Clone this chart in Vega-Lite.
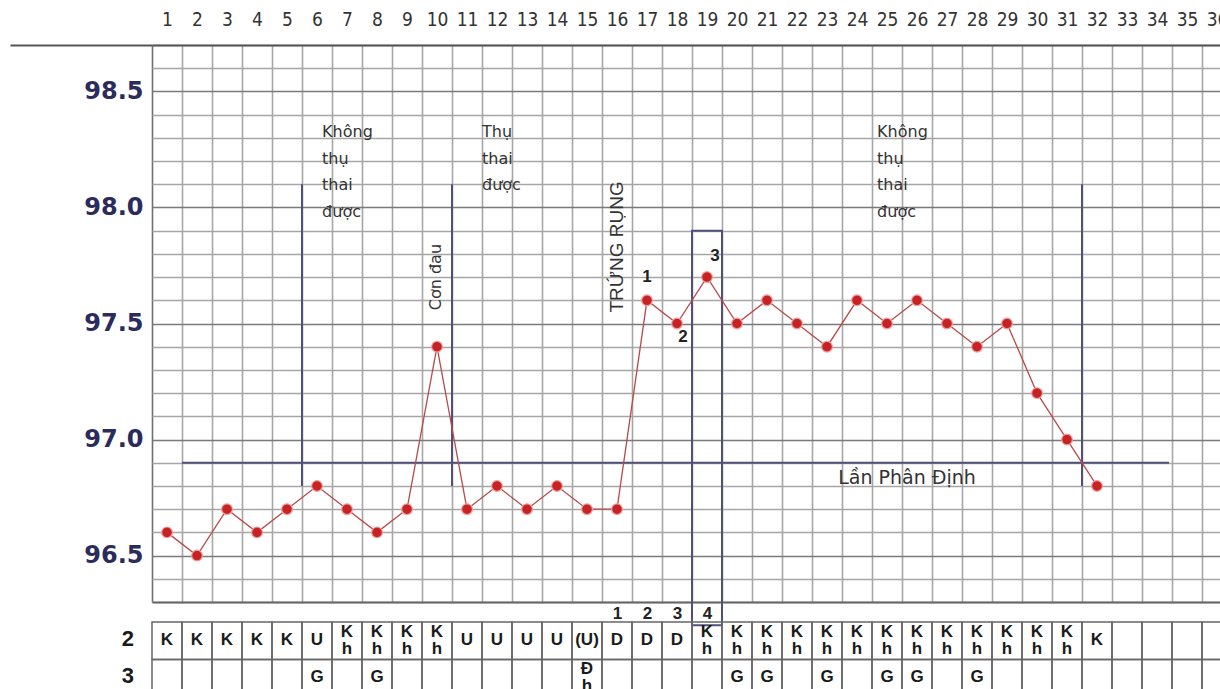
{
  "$schema": "https://vega.github.io/schema/vega-lite/v6.json",
  "autosize": {"type": "none"},
  "padding": {"left": 152, "top": 45, "right": 0, "bottom": 87},
  "width": 1068,
  "height": 557,
  "background": "white",
  "config": {"view": {"stroke": null}, "font": "Liberation Sans"},
  "datasets": {
    "temps": [
      {"day": 1, "temp": 96.6}, {"day": 2, "temp": 96.5}, {"day": 3, "temp": 96.7}, {"day": 4, "temp": 96.6},
      {"day": 5, "temp": 96.7}, {"day": 6, "temp": 96.8}, {"day": 7, "temp": 96.7}, {"day": 8, "temp": 96.6},
      {"day": 9, "temp": 96.7}, {"day": 10, "temp": 97.4}, {"day": 11, "temp": 96.7}, {"day": 12, "temp": 96.8},
      {"day": 13, "temp": 96.7}, {"day": 14, "temp": 96.8}, {"day": 15, "temp": 96.7}, {"day": 16, "temp": 96.7},
      {"day": 17, "temp": 97.6}, {"day": 18, "temp": 97.5}, {"day": 19, "temp": 97.7}, {"day": 20, "temp": 97.5},
      {"day": 21, "temp": 97.6}, {"day": 22, "temp": 97.5}, {"day": 23, "temp": 97.4}, {"day": 24, "temp": 97.6},
      {"day": 25, "temp": 97.5}, {"day": 26, "temp": 97.6}, {"day": 27, "temp": 97.5}, {"day": 28, "temp": 97.4},
      {"day": 29, "temp": 97.5}, {"day": 30, "temp": 97.2}, {"day": 31, "temp": 97.0}, {"day": 32, "temp": 96.8}
    ],
    "cells": [
      {"d": 1, "r": "2", "t": "K"}, {"d": 2, "r": "2", "t": "K"}, {"d": 3, "r": "2", "t": "K"}, {"d": 4, "r": "2", "t": "K"},
      {"d": 5, "r": "2", "t": "K"}, {"d": 6, "r": "2", "t": "U"}, {"d": 7, "r": "2", "t": "K\nh"}, {"d": 8, "r": "2", "t": "K\nh"},
      {"d": 9, "r": "2", "t": "K\nh"}, {"d": 10, "r": "2", "t": "K\nh"}, {"d": 11, "r": "2", "t": "U"}, {"d": 12, "r": "2", "t": "U"},
      {"d": 13, "r": "2", "t": "U"}, {"d": 14, "r": "2", "t": "U"}, {"d": 15, "r": "2", "t": "(U)"}, {"d": 16, "r": "2", "t": "D"},
      {"d": 17, "r": "2", "t": "D"}, {"d": 18, "r": "2", "t": "D"}, {"d": 19, "r": "2", "t": "K\nh"}, {"d": 20, "r": "2", "t": "K\nh"},
      {"d": 21, "r": "2", "t": "K\nh"}, {"d": 22, "r": "2", "t": "K\nh"}, {"d": 23, "r": "2", "t": "K\nh"}, {"d": 24, "r": "2", "t": "K\nh"},
      {"d": 25, "r": "2", "t": "K\nh"}, {"d": 26, "r": "2", "t": "K\nh"}, {"d": 27, "r": "2", "t": "K\nh"}, {"d": 28, "r": "2", "t": "K\nh"},
      {"d": 29, "r": "2", "t": "K\nh"}, {"d": 30, "r": "2", "t": "K\nh"}, {"d": 31, "r": "2", "t": "K\nh"}, {"d": 32, "r": "2", "t": "K"},
      {"d": 33, "r": "2", "t": ""}, {"d": 34, "r": "2", "t": ""}, {"d": 35, "r": "2", "t": ""}, {"d": 36, "r": "2", "t": ""},
      {"d": 1, "r": "3", "t": ""}, {"d": 2, "r": "3", "t": ""}, {"d": 3, "r": "3", "t": ""}, {"d": 4, "r": "3", "t": ""},
      {"d": 5, "r": "3", "t": ""}, {"d": 6, "r": "3", "t": "G"}, {"d": 7, "r": "3", "t": ""}, {"d": 8, "r": "3", "t": "G"},
      {"d": 9, "r": "3", "t": ""}, {"d": 10, "r": "3", "t": ""}, {"d": 11, "r": "3", "t": ""}, {"d": 12, "r": "3", "t": ""},
      {"d": 13, "r": "3", "t": ""}, {"d": 14, "r": "3", "t": ""}, {"d": 15, "r": "3", "t": "Đ\nh"}, {"d": 16, "r": "3", "t": ""},
      {"d": 17, "r": "3", "t": ""}, {"d": 18, "r": "3", "t": ""}, {"d": 19, "r": "3", "t": ""}, {"d": 20, "r": "3", "t": "G"},
      {"d": 21, "r": "3", "t": "G"}, {"d": 22, "r": "3", "t": ""}, {"d": 23, "r": "3", "t": "G"}, {"d": 24, "r": "3", "t": ""},
      {"d": 25, "r": "3", "t": "G"}, {"d": 26, "r": "3", "t": "G"}, {"d": 27, "r": "3", "t": ""}, {"d": 28, "r": "3", "t": "G"},
      {"d": 29, "r": "3", "t": ""}, {"d": 30, "r": "3", "t": ""}, {"d": 31, "r": "3", "t": ""}, {"d": 32, "r": "3", "t": ""},
      {"d": 33, "r": "3", "t": ""}, {"d": 34, "r": "3", "t": ""}, {"d": 35, "r": "3", "t": ""}, {"d": 36, "r": "3", "t": ""}
    ]
  },
  "layer": [
    {
      "layer": [
        {
          "data": {"values": [{"from": 1.5, "to": 34.4, "t": 96.9}]},
          "mark": {"type": "rule", "color": "#50507a", "strokeWidth": 2},
          "encoding": {
            "x": {"field": "from", "type": "quantitative",
              "scale": {"domain": [0.5, 36.1], "nice": false, "zero": false},
              "axis": {"orient": "bottom", "values": [0.5,1.5,2.5,3.5,4.5,5.5,6.5,7.5,8.5,9.5,10.5,11.5,12.5,13.5,14.5,15.5,16.5,17.5,18.5,19.5,20.5,21.5,22.5,23.5,24.5,25.5,26.5,27.5,28.5,29.5,30.5,31.5,32.5,33.5,34.5,35.5],
                "tickCount": 100,
                "grid": true, "labels": false, "ticks": false, "domain": false, "title": null,
                "gridColor": {"condition": {"test": "datum.value < 1", "value": "#707070"}, "value": "#a6a6a6"},
                "gridWidth": 1.6}},
            "x2": {"field": "to"},
            "y": {"field": "t", "type": "quantitative",
              "scale": {"domain": [96.3, 98.7], "nice": false, "zero": false},
              "axis": {"orient": "left", "title": null,
                "values": [96.3,96.4,96.5,96.6,96.7,96.8,96.9,97.0,97.1,97.2,97.3,97.4,97.5,97.6,97.7,97.8,97.9,98.0,98.1,98.2,98.3,98.4,98.5,98.6,98.7],
                "tickCount": 100,
                "grid": true, "domain": false,
                "gridColor": {"condition": {"test": "abs(datum.value - 96.5) < 0.01 || abs(datum.value - 97) < 0.01 || abs(datum.value - 97.5) < 0.01 || abs(datum.value - 98) < 0.01 || abs(datum.value - 98.5) < 0.01", "value": "#7a7a7a"}, "value": "#a6a6a6"},
                "gridWidth": 1.7,
                "ticks": true, "tickSize": 142, "tickWidth": 2,
                "tickColor": {"condition": {"test": "datum.value > 98.65", "value": "#555555"}, "value": "transparent"},
                "labelExpr": "abs(datum.value - 96.5) < 0.01 || abs(datum.value - 97) < 0.01 || abs(datum.value - 97.5) < 0.01 || abs(datum.value - 98) < 0.01 || abs(datum.value - 98.5) < 0.01 ? format(datum.value, '.1f') : ''",
                "labelOverlap": false, "labelPadding": -133, "labelFlush": false, "labelBound": false,
                "labelFont": "DejaVu Sans", "labelFontWeight": "bold", "labelFontSize": 24, "labelColor": "#2b2b5c"}}
          }
        },
        {
          "data": {"values": [{"x": 5.5, "top": 98.1, "bottom": 96.8}, {"x": 10.5, "top": 98.1, "bottom": 96.8}, {"x": 31.5, "top": 98.1, "bottom": 96.8}]},
          "mark": {"type": "rule", "color": "#50507a", "strokeWidth": 2},
          "encoding": {
            "x": {"field": "x", "type": "quantitative", "scale": {"domain": [0.5, 36.1], "nice": false, "zero": false}, "axis": null},
            "y": {"field": "top", "type": "quantitative", "scale": {"domain": [96.3, 98.7], "nice": false, "zero": false}, "axis": {"title": null}},
            "y2": {"field": "bottom"}
          }
        },
        {
          "data": {"values": [{"from": 18.5, "to": 19.5, "top": 97.9, "bottom": 96.2}]},
          "mark": {"type": "rect", "fill": "transparent", "stroke": "#50507a", "strokeWidth": 2},
          "encoding": {
            "x": {"field": "from", "type": "quantitative", "scale": {"domain": [0.5, 36.1], "nice": false, "zero": false},
              "axis": {"orient": "bottom", "values": [16, 17, 18, 19], "labelExpr": "'' + (datum.value - 15)",
                "grid": false, "ticks": false, "domain": true, "domainColor": "#666666", "domainWidth": 2, "title": null,
                "labelFont": "Liberation Sans", "labelFontWeight": "bold", "labelFontSize": 17, "labelColor": "#222222", "labelPadding": 3, "labelOverlap": false}},
            "x2": {"field": "to"},
            "y": {"field": "top", "type": "quantitative", "scale": {"domain": [96.3, 98.7], "nice": false, "zero": false}, "axis": {"title": null}},
            "y2": {"field": "bottom"}
          }
        },
        {
          "data": {"values": [
            {"x": 6.17, "y": 98.325, "text": "Không\nthụ\nthai\nđược"},
            {"x": 11.5, "y": 98.325, "text": "Thụ\nthai\nđược"},
            {"x": 24.67, "y": 98.325, "text": "Không\nthụ\nthai\nđược"}
          ]},
          "mark": {"type": "text", "align": "left", "baseline": "middle", "lineBreak": "\n", "lineHeight": 26.5, "font": "DejaVu Sans", "fontSize": 16, "color": "#333333"},
          "encoding": {
            "x": {"field": "x", "type": "quantitative", "scale": {"domain": [0.5, 36.1], "nice": false, "zero": false}, "axis": null},
            "y": {"field": "y", "type": "quantitative", "scale": {"domain": [96.3, 98.7], "nice": false, "zero": false}, "axis": {"title": null}},
            "text": {"field": "text"}
          }
        },
        {
          "data": {"values": [{"x": 25.67, "y": 96.834, "text": "Lần Phân Định"}]},
          "mark": {"type": "text", "align": "center", "baseline": "middle", "font": "DejaVu Sans", "fontSize": 19, "color": "#333333"},
          "encoding": {
            "x": {"field": "x", "type": "quantitative", "scale": {"domain": [0.5, 36.1], "nice": false, "zero": false}, "axis": null},
            "y": {"field": "y", "type": "quantitative", "scale": {"domain": [96.3, 98.7], "nice": false, "zero": false}, "axis": {"title": null}},
            "text": {"field": "text"}
          }
        },
        {
          "data": {"values": [{"x": 9.95, "y": 97.7, "text": "Cơn đau"}]},
          "mark": {"type": "text", "align": "center", "baseline": "middle", "angle": 270, "font": "DejaVu Sans", "fontSize": 16, "color": "#333333"},
          "encoding": {
            "x": {"field": "x", "type": "quantitative", "scale": {"domain": [0.5, 36.1], "nice": false, "zero": false}, "axis": null},
            "y": {"field": "y", "type": "quantitative", "scale": {"domain": [96.3, 98.7], "nice": false, "zero": false}, "axis": {"title": null}},
            "text": {"field": "text"}
          }
        },
        {
          "data": {"values": [{"x": 16, "y": 97.83, "text": "TRỨNG RỤNG"}]},
          "mark": {"type": "text", "align": "center", "baseline": "middle", "angle": 270, "font": "Liberation Sans", "fontSize": 19, "color": "#333333"},
          "encoding": {
            "x": {"field": "x", "type": "quantitative", "scale": {"domain": [0.5, 36.1], "nice": false, "zero": false}, "axis": null},
            "y": {"field": "y", "type": "quantitative", "scale": {"domain": [96.3, 98.7], "nice": false, "zero": false}, "axis": {"title": null}},
            "text": {"field": "text"}
          }
        },
        {
          "data": {"name": "temps"},
          "mark": {"type": "line", "color": "#b84a4a", "strokeWidth": 1.3},
          "encoding": {
            "x": {"field": "day", "type": "quantitative", "scale": {"domain": [0.5, 36.1], "nice": false, "zero": false},
              "axis": {"orient": "top", "values": [1,2,3,4,5,6,7,8,9,10,11,12,13,14,15,16,17,18,19,20,21,22,23,24,25,26,27,28,29,30,31,32,33,34,35,36],
                "format": "d",
                "grid": false, "ticks": false, "domain": true, "domainColor": "#555555", "domainWidth": 2, "title": null,
                "labelFont": "Liberation Sans Narrow, DejaVu Sans Condensed, sans-serif", "labelFontSize": 19, "labelColor": "#333333",
                "labelBaseline": "alphabetic", "labelPadding": 20, "labelOverlap": false, "labelFlush": false, "labelBound": false}},
            "y": {"field": "temp", "type": "quantitative", "scale": {"domain": [96.3, 98.7], "nice": false, "zero": false}, "axis": {"title": null}}
          }
        },
        {
          "data": {"name": "temps"},
          "mark": {"type": "point", "filled": true, "fill": "#c62424", "stroke": "#f0a0a0", "strokeWidth": 1.2, "size": 115, "opacity": 1},
          "encoding": {
            "x": {"field": "day", "type": "quantitative", "scale": {"domain": [0.5, 36.1], "nice": false, "zero": false}, "axis": null},
            "y": {"field": "temp", "type": "quantitative", "scale": {"domain": [96.3, 98.7], "nice": false, "zero": false}, "axis": {"title": null}}
          }
        },
        {
          "data": {"values": [{"x": 17, "y": 97.7, "text": "1"}, {"x": 18.2, "y": 97.44, "text": "2"}, {"x": 19.27, "y": 97.79, "text": "3"}]},
          "mark": {"type": "text", "align": "center", "baseline": "middle", "font": "Liberation Sans", "fontWeight": "bold", "fontSize": 17, "color": "#222222"},
          "encoding": {
            "x": {"field": "x", "type": "quantitative", "scale": {"domain": [0.5, 36.1], "nice": false, "zero": false}, "axis": null},
            "y": {"field": "y", "type": "quantitative", "scale": {"domain": [96.3, 98.7], "nice": false, "zero": false}, "axis": {"title": null}},
            "text": {"field": "text"}
          }
        }
      ],
      "resolve": {"axis": {"x": "independent"}}
    },
    {
      "layer": [
        {
          "data": {"name": "cells"},
          "mark": {"type": "rect", "fill": "transparent", "stroke": "#666666", "strokeWidth": 1.5},
          "encoding": {
            "x": {"field": "d", "type": "ordinal", "scale": {"type": "band", "domain": [1,2,3,4,5,6,7,8,9,10,11,12,13,14,15,16,17,18,19,20,21,22,23,24,25,26,27,28,29,30,31,32,33,34,35,36], "range": [0, 1080], "paddingInner": 0, "paddingOuter": 0}, "axis": null},
            "y": {"field": "r", "type": "nominal", "scale": {"type": "band", "domain": ["2", "3"], "range": [577, 652], "paddingInner": 0, "paddingOuter": 0}, "axis": null}
          }
        },
        {
          "data": {"name": "cells"},
          "transform": [{"filter": "indexof(datum.t, '\\n') < 0"}],
          "mark": {"type": "text", "align": "center", "baseline": "middle", "font": "Liberation Sans", "fontWeight": "bold", "fontSize": 17, "color": "#1a1a1a", "dy": -1},
          "encoding": {
            "x": {"field": "d", "type": "ordinal", "axis": null},
            "y": {"field": "r", "type": "nominal", "axis": null},
            "text": {"field": "t"}
          }
        },
        {
          "data": {"name": "cells"},
          "transform": [{"filter": "indexof(datum.t, '\\n') >= 0"}],
          "mark": {"type": "text", "align": "center", "baseline": "middle", "lineBreak": "\n", "lineHeight": 17, "font": "Liberation Sans", "fontWeight": "bold", "fontSize": 17, "color": "#1a1a1a", "dy": -9},
          "encoding": {
            "x": {"field": "d", "type": "ordinal", "axis": null},
            "y": {"field": "r", "type": "nominal", "axis": null},
            "text": {"field": "t"}
          }
        },
        {
          "data": {"values": [{"r": "2"}, {"r": "3"}]},
          "mark": {"type": "text", "align": "right", "baseline": "middle", "font": "Liberation Sans", "fontWeight": "bold", "fontSize": 22, "color": "#1a1a1a", "dx": -33, "dy": -2},
          "encoding": {
            "x": {"datum": 1, "type": "ordinal", "axis": null},
            "y": {"field": "r", "type": "nominal", "axis": null},
            "text": {"field": "r"}
          }
        }
      ]
    }
  ],
  "resolve": {"scale": {"x": "independent", "y": "independent"}, "axis": {"x": "independent", "y": "independent"}}
}
